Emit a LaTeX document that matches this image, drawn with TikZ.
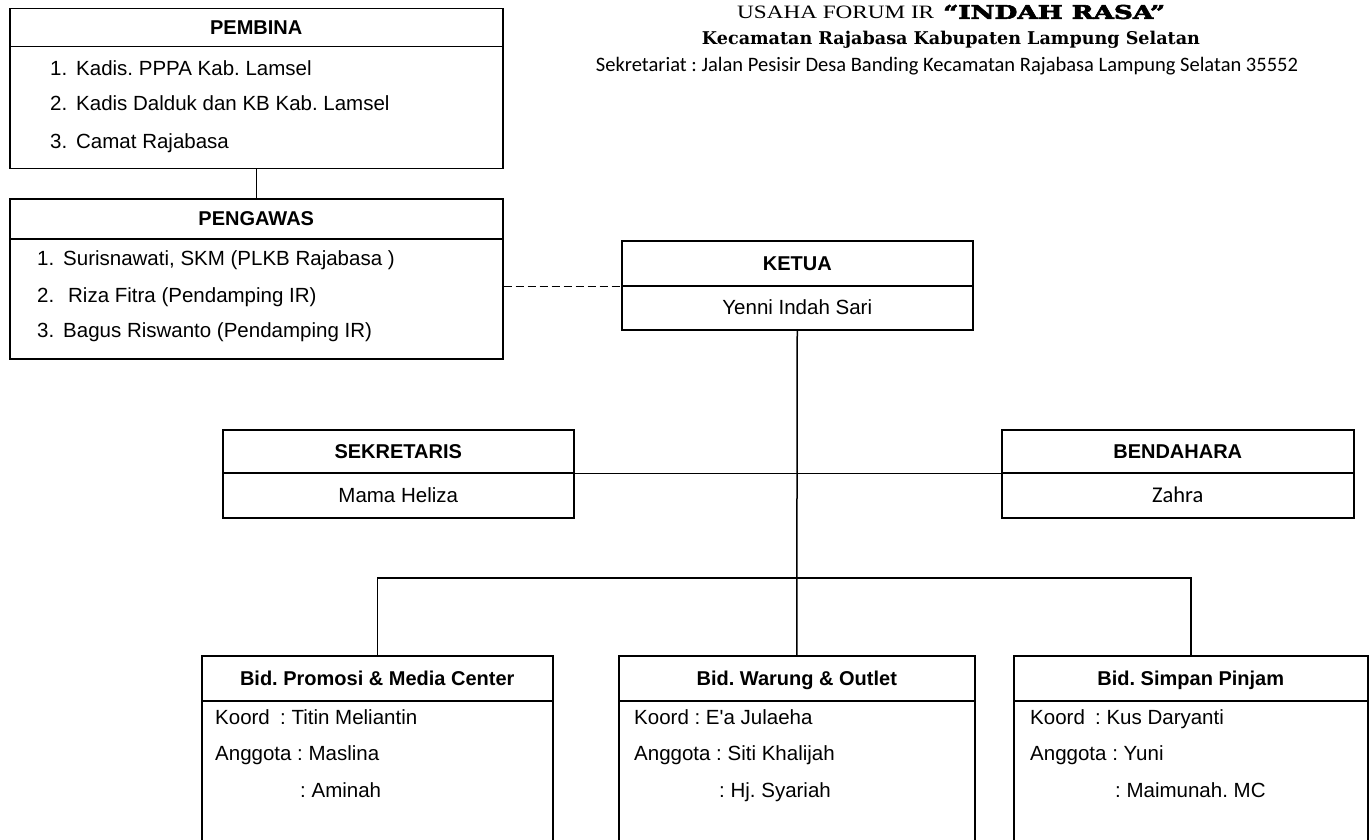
\documentclass[tikz,border=0pt]{standalone}
\usepackage{fontspec}
\setmainfont{Liberation Sans}
\newfontfamily\titleserif{Liberation Serif}
\newfontfamily\slabfont{DejaVu Serif}
\newfontfamily\slabheavy[FakeBold=3]{DejaVu Serif}
\newfontfamily\carl{Carlito}
\frenchspacing
\begin{document}
\begin{tikzpicture}[x=1pt,y=-1pt,
  hdr/.style={draw, line width=1.5pt, anchor=north west, inner sep=0pt,
    text height=14pt, text depth=0pt,
    font=\bfseries\fontsize{20}{22}\selectfont},
  bodybox/.style={draw, line width=1.5pt, anchor=north west, inner sep=0pt},
  conn/.style={line width=1.5pt},
  dashline/.style={line width=1.5pt, dash pattern=on 8pt off 4pt},
  txt/.style={anchor=west, inner sep=0pt, text height=14.5pt, text depth=0.5pt,
    font=\fontsize{20.5}{22}\selectfont},
  ctxt/.style={inner sep=0pt, text height=14.5pt, text depth=0.5pt,
    font=\fontsize{20.5}{22}\selectfont}]
\clip (0,0) rectangle (1371,840);
\fill[white] (0,0) rectangle (1371,840);

% title
\node[anchor=west, inner sep=0pt] (title1a) at (737,12)
  {\resizebox{197pt}{12.5pt}{\titleserif USAHA FORUM IR}};
\node[anchor=west, inner sep=0pt] (title1b) at (943,12)
  {\resizebox{222pt}{14pt}{\slabheavy\bfseries “INDAH RASA”}};
\node[inner sep=0pt] (title2) at (951,40)
  {\resizebox{498pt}{!}{\slabfont\bfseries Kecamatan Rajabasa Kabupaten Lampung Selatan}};
\node[inner sep=0pt] (title3) at (947,66)
  {\resizebox{702pt}{!}{\carl Sekretariat : Jalan Pesisir Desa Banding Kecamatan Rajabasa Lampung Selatan 35552}};

% PEMBINA
\node[hdr, minimum width=493pt, minimum height=38pt] (pembinaH) at (9,8) {PEMBINA};
\node[bodybox, minimum width=493pt, minimum height=122pt] (pembina) at (9,46) {};
\node[txt] (pb1) at (50,69) {\makebox[26pt][l]{1.}Kadis. PPPA Kab. Lamsel};
\node[txt] (pb2) at (50,104) {\makebox[26pt][l]{2.}Kadis Dalduk dan KB Kab. Lamsel};
\node[txt] (pb3) at (50,142) {\makebox[26pt][l]{3.}Camat Rajabasa};

% PENGAWAS
\node[hdr, minimum width=493pt, minimum height=40pt] (pengawasH) at (9,198) {PENGAWAS};
\node[bodybox, minimum width=493pt, minimum height=120pt] (pengawas) at (9,238) {};
\node[txt] (pg1) at (37,258) {\makebox[26pt][l]{1.}Surisnawati, SKM (PLKB Rajabasa )};
\node[txt] (pg2) at (37,295) {\makebox[31pt][l]{2.}Riza Fitra (Pendamping IR)};
\node[txt] (pg3) at (37,330) {\makebox[26pt][l]{3.}Bagus Riswanto (Pendamping IR)};

% KETUA
\node[hdr, minimum width=351pt, minimum height=45pt] (ketuaH) at (621,240) {KETUA};
\node[bodybox, minimum width=351pt, minimum height=44pt] (ketua) at (621,285) {};
\node[ctxt] (kt1) at (ketua.center) {Yenni Indah Sari};

% SEKRETARIS
\node[hdr, minimum width=351pt, minimum height=43pt] (sekH) at (222,429) {SEKRETARIS};
\node[bodybox, minimum width=351pt, minimum height=45pt] (sek) at (222,472) {};
\node[ctxt] (sk1) at (sek.center) {Mama Heliza};

% BENDAHARA
\node[hdr, minimum width=352pt, minimum height=43pt] (benH) at (1001,429) {BENDAHARA};
\node[bodybox, minimum width=352pt, minimum height=45pt] (ben) at (1001,472) {};
\node[inner sep=0pt, text height=15pt, text depth=0.5pt, font=\carl\fontsize{22.5}{24}\selectfont] (bn1) at (ben.center) {Zahra};

% Bidang boxes
\node[hdr, minimum width=351pt, minimum height=45pt] (bid1H) at (201,655) {Bid. Promosi \& Media Center};
\node[bodybox, minimum width=351pt, minimum height=220pt] (bid1) at (201,700) {};
\node[txt] (b1a) at (215,717) {Koord\enspace: Titin Meliantin};
\node[txt] (b1b) at (215,753) {Anggota : Maslina};
\node[txt] (b1c) at (300,790) {: Aminah};

\node[hdr, minimum width=356pt, minimum height=45pt] (bid2H) at (618,655) {Bid. Warung \& Outlet};
\node[bodybox, minimum width=356pt, minimum height=220pt] (bid2) at (618,700) {};
\node[txt] (b2a) at (634,717) {Koord : E\textquotesingle a Julaeha};
\node[txt] (b2b) at (634,753) {Anggota : Siti Khalijah};
\node[txt] (b2c) at (719,790) {: Hj. Syariah};

\node[hdr, minimum width=354pt, minimum height=45pt] (bid3H) at (1013,655) {Bid. Simpan Pinjam};
\node[bodybox, minimum width=354pt, minimum height=220pt] (bid3) at (1013,700) {};
\node[txt] (b3a) at (1030,717) {Koord\enspace: Kus Daryanti};
\node[txt] (b3b) at (1030,753) {Anggota : Yuni};
\node[txt] (b3c) at (1115,790) {: Maimunah. MC};

% connectors
\draw[conn] (pembina.south) -- (pengawasH.north);
\draw[dashline] (pengawas.east |- ketuaH.south west) -- (ketuaH.south west);
\draw[conn] (ketua.south) -- (bid2H.north);
\draw[conn] (sekH.south east) -- (benH.south west);
\coordinate (bus) at (0,578);
\draw[conn] (bid1H.north) -- (bid1H.north |- bus) -- (bid3H.north |- bus) -- (bid3H.north);
\end{tikzpicture}
\end{document}
